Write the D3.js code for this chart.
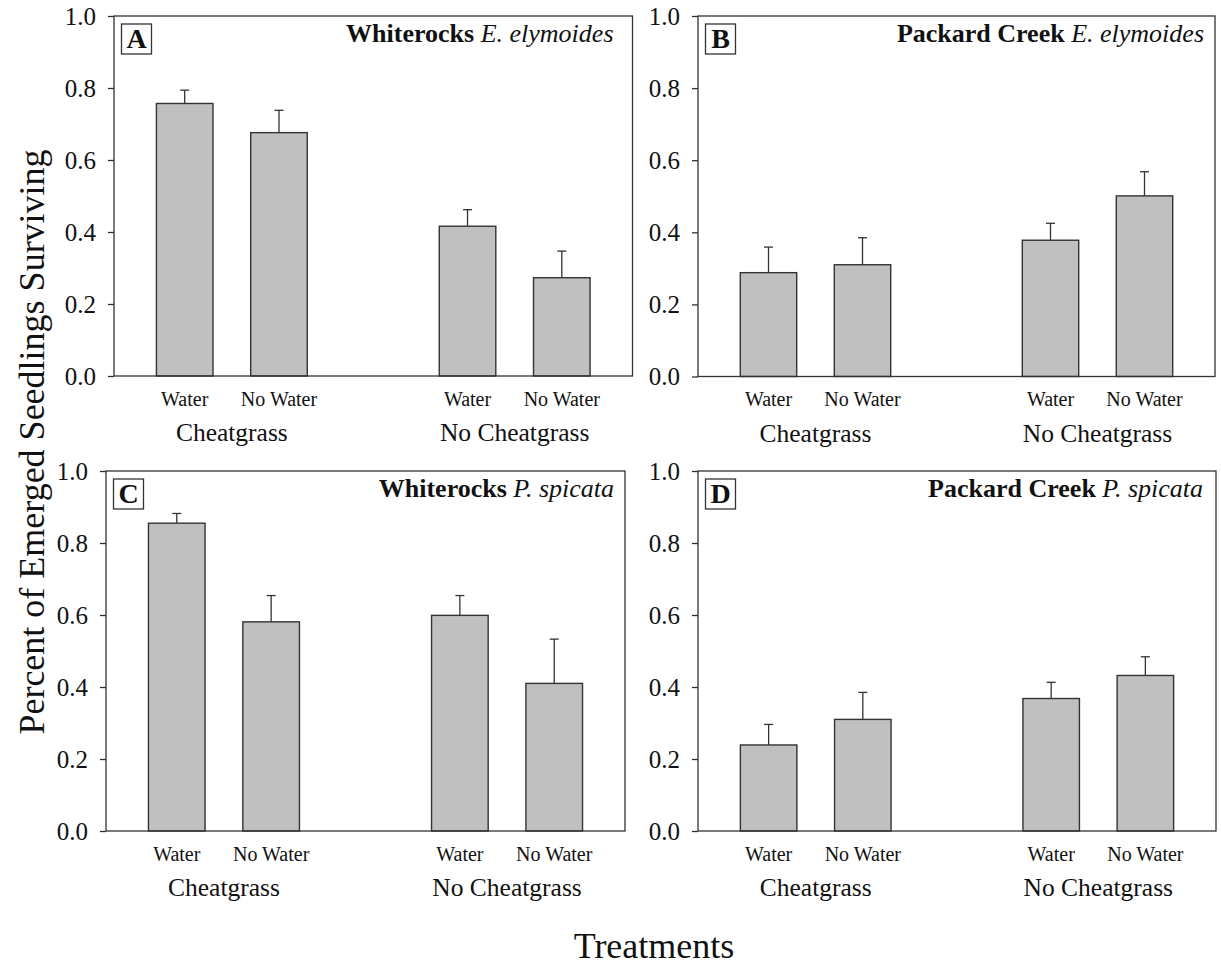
<!DOCTYPE html>
<html>
<head>
<meta charset="utf-8">
<script src="https://cdn.jsdelivr.net/npm/d3@7"></script>
<style>
  html, body { margin: 0; padding: 0; background: #fff; }
  svg { display: block; }
  svg text { font-family: "Liberation Serif", "Times New Roman", serif; }
</style>
</head>
<body>
<svg id="chart" width="1221" height="966"></svg>
<script>
// Seedling survival by treatment, four site × species panels
const panelLetters = ["A", "B", "C", "D"];
const panelSites = ["Whiterocks", "Packard Creek", "Whiterocks", "Packard Creek"];
const panelSpecies = ["E. elymoides", "E. elymoides", "P. spicata", "P. spicata"];
const groupLabels = ["Cheatgrass", "No Cheatgrass"];
const waterLabels = ["Water", "No Water"];

// mean proportion surviving (Cheatgrass/Water, Cheatgrass/No Water, No Cheatgrass/Water, No Cheatgrass/No Water)
const meansA = [0.757, 0.676, 0.416, 0.273];
const meansB = [0.288, 0.310, 0.378, 0.501];
const meansC = [0.855, 0.581, 0.599, 0.410];
const meansD = [0.239, 0.310, 0.368, 0.432];
// standard errors
const seA = [0.037, 0.062, 0.046, 0.074];
const seB = [0.071, 0.075, 0.047, 0.067];
const seC = [0.027, 0.073, 0.055, 0.123];
const seD = [0.057, 0.075, 0.045, 0.052];

const yTicks = [0, 0.2, 0.4, 0.6, 0.8, 1.0];
const yTitle = "Percent of Emerged Seedlings Surviving";
const xTitle = "Treatments";

const panelMeans = [meansA, meansB, meansC, meansD];
const panelSE = [seA, seB, seC, seD];

// plot frames for each panel
const frames = [
  { left: 114, right: 632.5, top: 16, bottom: 376, titleInset: 19 },
  { left: 698, right: 1215, top: 16, bottom: 376.5, titleInset: 11 },
  { left: 106, right: 625, top: 471, bottom: 831, titleInset: 11 },
  { left: 698, right: 1216, top: 471, bottom: 831, titleInset: 13 }
];

const SERIF = "'Liberation Serif', 'Times New Roman', serif";
const svg = d3.select("#chart");
const lineColor = "#333";
const textColor = "#111";
const barFill = "#c0c0c0";

panelLetters.forEach((letter, p) => {
  const f = frames[p];
  const x = d3.scaleLinear().domain([0.25, 5.75]).range([f.left, f.right]);
  const y = d3.scaleLinear().domain([0, 1]).range([f.bottom, f.top]);
  const unit = x(1) - x(0);
  const barW = 0.6 * unit;

  const rows = panelMeans[p].map((m, i) => ({
    group: Math.floor(i / 2),
    water: i % 2,
    pos: Math.floor(i / 2) * 3 + (i % 2) + 1,
    mean: m,
    se: panelSE[p][i]
  }));

  const g = svg.append("g");

  // y axis ticks and labels
  const yAxis = d3.axisLeft(y)
    .tickValues(yTicks)
    .tickFormat(d3.format(".1f"))
    .tickSize(6)
    .tickPadding(12);
  const ya = g.append("g")
    .attr("transform", `translate(${f.left},0)`)
    .call(yAxis)
    .attr("font-family", SERIF)
    .attr("font-size", 25);
  ya.select(".domain").remove();
  ya.selectAll(".tick line").attr("stroke", lineColor).attr("stroke-width", 1.3);
  ya.selectAll(".tick text")
    .attr("fill", textColor)
    .attr("font-family", SERIF)
    .attr("font-size", 25);

  // bars
  g.selectAll("rect.bar").data(rows).join("rect")
    .attr("class", "bar")
    .attr("x", d => x(d.pos) - barW / 2)
    .attr("width", barW)
    .attr("y", d => y(d.mean))
    .attr("height", d => y(0) - y(d.mean))
    .attr("fill", barFill)
    .attr("stroke", lineColor)
    .attr("stroke-width", 1.4);

  // upper error bars
  g.selectAll("line.err").data(rows).join("line")
    .attr("class", "err")
    .attr("x1", d => x(d.pos)).attr("x2", d => x(d.pos))
    .attr("y1", d => y(d.mean)).attr("y2", d => y(d.mean + d.se))
    .attr("stroke", lineColor).attr("stroke-width", 1.3);
  g.selectAll("line.cap").data(rows).join("line")
    .attr("class", "cap")
    .attr("x1", d => x(d.pos) - 4.5).attr("x2", d => x(d.pos) + 4.5)
    .attr("y1", d => y(d.mean + d.se)).attr("y2", d => y(d.mean + d.se))
    .attr("stroke", lineColor).attr("stroke-width", 1.3);

  // frame
  g.append("rect")
    .attr("x", f.left).attr("y", f.top)
    .attr("width", f.right - f.left).attr("height", f.bottom - f.top)
    .attr("fill", "none").attr("stroke", lineColor).attr("stroke-width", 1.3);

  // water treatment labels
  g.selectAll("text.water").data(rows).join("text")
    .attr("class", "water")
    .attr("x", d => x(d.pos))
    .attr("y", f.bottom + 29.5)
    .attr("text-anchor", "middle")
    .attr("font-family", SERIF)
    .attr("font-size", 20)
    .attr("fill", textColor)
    .text(d => waterLabels[d.water]);

  // cheatgrass group labels
  g.selectAll("text.group").data(groupLabels).join("text")
    .attr("class", "group")
    .attr("x", (d, i) => x(i * 3 + 1.5))
    .attr("y", f.bottom + 65)
    .attr("text-anchor", "middle")
    .attr("font-family", SERIF)
    .attr("font-size", 25.5)
    .attr("fill", textColor)
    .text(d => d);

  // panel letter in a box
  const boxX = f.left + 7.5, boxY = f.top + 8, boxS = 30;
  g.append("rect")
    .attr("x", boxX).attr("y", boxY)
    .attr("width", boxS).attr("height", boxS)
    .attr("fill", "#fff").attr("stroke", lineColor).attr("stroke-width", 1.3);
  g.append("text")
    .attr("x", boxX + boxS / 2).attr("y", boxY + boxS - 6)
    .attr("text-anchor", "middle")
    .attr("font-family", SERIF)
    .attr("font-size", 28).attr("font-weight", "bold")
    .attr("fill", textColor)
    .text(letter);

  // site (bold) and species (italic) title
  const t = g.append("text")
    .attr("x", f.right - f.titleInset).attr("y", f.top + 26)
    .attr("text-anchor", "end")
    .attr("font-family", SERIF)
    .attr("font-size", 26)
    .attr("fill", textColor);
  t.append("tspan").attr("font-weight", "bold").text(panelSites[p] + " ");
  t.append("tspan").attr("font-style", "italic").text(panelSpecies[p]);
});

// shared axis titles
svg.append("text")
  .attr("transform", "translate(44,442) rotate(-90)")
  .attr("text-anchor", "middle")
  .attr("font-family", SERIF)
  .attr("font-size", 36)
  .attr("fill", textColor)
  .text(yTitle);

svg.append("text")
  .attr("x", 654).attr("y", 958)
  .attr("text-anchor", "middle")
  .attr("font-family", SERIF)
  .attr("font-size", 36)
  .attr("fill", textColor)
  .text(xTitle);
</script>
</body>
</html>
